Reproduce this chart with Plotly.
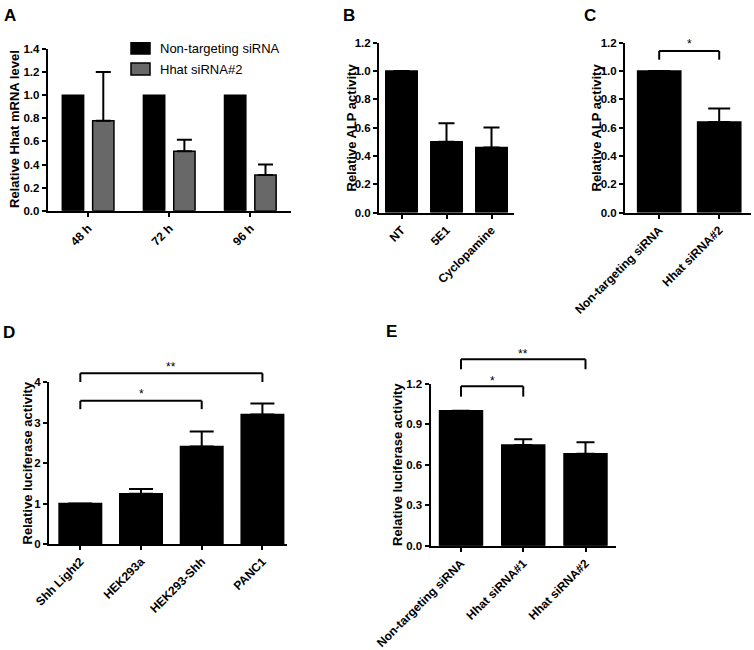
import plotly.graph_objects as go

W, H = 754, 650
FONT = "Arial, 'Liberation Sans', Helvetica, sans-serif"

# ---------------- data ----------------
a_categories = ["48 h", "72 h", "96 h"]
a_nontargeting = [1.0, 1.0, 1.0]
a_hhat = [0.78, 0.515, 0.31]
a_hhat_err = [0.42, 0.10, 0.09]

b_categories = ["NT", "5E1", "Cyclopamine"]
b_values = [1.0, 0.50, 0.46]
b_err = [None, 0.13, 0.14]

c_categories = ["Non-targeting siRNA", "Hhat siRNA#2"]
c_values = [1.0, 0.64]
c_err = [None, 0.095]

d_categories = ["Shh Light2", "HEK293a", "HEK293-Shh", "PANC1"]
d_values = [1.0, 1.24, 2.41, 3.20]
d_err = [None, 0.12, 0.37, 0.27]

e_categories = ["Non-targeting siRNA", "Hhat siRNA#1", "Hhat siRNA#2"]
e_values = [1.0, 0.746, 0.681]
e_err = [None, 0.042, 0.085]

# significance brackets: (panel, i, j, y_line, y_leg, y_text, label)
brackets = [
    ("C", 0, 1, 1.141, 1.08, 1.19, "*"),
    ("D", 0, 2, 3.535, 3.33, 3.70, "*"),
    ("D", 0, 3, 4.216, 4.00, 4.38, "**"),
    ("E", 0, 1, 1.181, 1.104, 1.222, "*"),
    ("E", 0, 2, 1.381, 1.307, 1.422, "**"),
]

# ---------------- layout geometry (window pixels) ----------------
panels = {
    #      x0     x1     ytop   ybot   xrange          yrange    dtick  fmt
    "A": (47.7, 291.0, 49.0, 210.8, [-0.5, 2.5], [0, 1.4], 0.2, ".1f", ""),
    "B": (379.0, 514.0, 42.7, 212.5, [-0.5, 2.5], [0, 1.2], 0.2, ".1f", "2"),
    "C": (625.0, 751.0, 42.7, 212.5, [-0.57, 1.53], [0, 1.2], 0.2, ".1f", "3"),
    "D": (49.0, 287.3, 382.0, 544.0, [-0.516, 3.41], [0, 4], 1, "d", "4"),
    "E": (430.5, 616.0, 383.7, 545.7, [-0.49, 2.49], [0, 1.2], 0.3, ".1f", "5"),
}

def px(x):
    return x / W

def py(y):
    return 1 - y / H

fig = go.Figure()
xfont = dict(family=FONT, size=12, color="black", weight="bold")
yfont = dict(family=FONT, size=11.5, color="black", weight="bold")

BLACK = "#000000"
GREY = "#686868"

# Panel A
fig.add_trace(go.Bar(x=a_categories, y=a_nontargeting, name="Non-targeting siRNA",
                     marker=dict(color=BLACK, line=dict(color=BLACK, width=1.5)),
                     width=0.263, offset=-0.32, xaxis="x", yaxis="y", showlegend=False))
fig.add_trace(go.Bar(x=a_categories, y=a_hhat, name="Hhat siRNA#2",
                     marker=dict(color=GREY, line=dict(color=BLACK, width=1.5)),
                     width=0.263, offset=0.054, xaxis="x", yaxis="y", showlegend=False,
                     error_y=dict(type="data", array=a_hhat_err, arrayminus=[0, 0, 0], symmetric=False,
                                  color=BLACK, thickness=2, width=7.5)))

def single(cats, vals, errs, ax, width, capw):
    fig.add_trace(go.Bar(x=cats, y=vals, marker=dict(color=BLACK, line=dict(color=BLACK, width=1.5)),
                         width=width, xaxis="x" + ax, yaxis="y" + ax, showlegend=False,
                         error_y=dict(type="data", array=errs, arrayminus=[0] * len(vals), symmetric=False,
                                      color=BLACK, thickness=2, width=capw)))

single(b_categories, b_values, b_err, "2", 0.70, 8)
single(c_categories, c_values, c_err, "3", 0.72, 11)
single(d_categories, d_values, d_err, "4", 0.70, 12)
single(e_categories, e_values, e_err, "5", 0.69, 9)

layout = dict(width=W, height=H, margin=dict(l=0, r=0, t=0, b=0, pad=0, autoexpand=False),
              autosize=False,
              paper_bgcolor="white", plot_bgcolor="white", showlegend=False,
              font=dict(family=FONT, color="black"))

for key, (x0, x1, yt, yb, xr, yr, dt, fmt, sfx) in panels.items():
    layout["xaxis" + sfx] = dict(domain=[px(x0), px(x1)], anchor="y" + sfx, type="category",
                                 range=xr, showline=True, linecolor="black", linewidth=2,
                                 ticks="outside", ticklen=4, tickwidth=2, tickcolor="black",
                                 showgrid=False, zeroline=False, tickangle=-45, tickfont=xfont,
                                 fixedrange=True, automargin=False)
    layout["yaxis" + sfx] = dict(domain=[py(yb), py(yt)], anchor="x" + sfx, range=yr,
                                 dtick=dt, tick0=0, tickformat=fmt, showline=True, linecolor="black",
                                 linewidth=2, ticks="outside", ticklen=4, tickwidth=2,
                                 tickcolor="black", showgrid=False, zeroline=False, tickfont=yfont,
                                 fixedrange=True, automargin=False)

fig.update_layout(**layout)

# Panel letters and axis titles
letters = [("A", 10, 16), ("B", 349, 16), ("C", 590, 16), ("D", 9, 332), ("E", 391, 331)]
for t, x, y in letters:
    fig.add_annotation(text=t, x=px(x), y=py(y), xref="paper", yref="paper", showarrow=False,
                       font=dict(family=FONT, size=17, color="black", weight="bold"),
                       xanchor="center", yanchor="middle")

ytitles = [("Relative Hhat mRNA level", 14, 129), ("Relative ALP activity", 350.5, 128),
           ("Relative ALP activity", 595.5, 128), ("Relative luciferase activity", 27, 463.5),
           ("Relative luciferase activity", 397, 465)]
for t, x, y in ytitles:
    fig.add_annotation(text=t, x=px(x), y=py(y), xref="paper", yref="paper", showarrow=False,
                       textangle=-90, font=dict(family=FONT, size=13, color="black", weight="bold"),
                       xanchor="center", yanchor="middle")

# Legend for panel A (manual)
legend_items = [("Non-targeting siRNA", BLACK, 42.7, 54.0), ("Hhat siRNA#2", GREY, 63.0, 75.0)]
for label, col, y0, y1 in legend_items:
    fig.add_shape(type="rect", xref="paper", yref="paper", x0=px(131), x1=px(150),
                  y0=py(y1), y1=py(y0), fillcolor=col, line=dict(color="black", width=1.5))
    fig.add_annotation(text=label, x=px(158), y=py((y0 + y1) / 2), xref="paper", yref="paper",
                       showarrow=False, xanchor="left", yanchor="middle",
                       font=dict(family=FONT, size=13, color="black"))

# Brackets
for pnl, i, j, yl, yleg, ytxt, lab in brackets:
    x0p, x1p, yt, yb, xr, yr, dt, fmt, sfx = panels[pnl]
    xref = "x" + sfx + " domain"
    yref = "y" + sfx + " domain"
    fx = lambda v: (v - xr[0]) / (xr[1] - xr[0])
    fy = lambda v: (v - yr[0]) / (yr[1] - yr[0])
    line = dict(color="black", width=2)
    fig.add_shape(type="line", xref=xref, yref=yref, x0=fx(i), x1=fx(j), y0=fy(yl), y1=fy(yl), line=line)
    fig.add_shape(type="line", xref=xref, yref=yref, x0=fx(i), x1=fx(i), y0=fy(yleg), y1=fy(yl), line=line)
    fig.add_shape(type="line", xref=xref, yref=yref, x0=fx(j), x1=fx(j), y0=fy(yleg), y1=fy(yl), line=line)
    fig.add_annotation(text=lab, xref=xref, yref=yref, x=fx((i + j) / 2), y=fy(ytxt), showarrow=False,
                       xanchor="center", yanchor="middle", font=dict(family=FONT, size=12, color="black"))

# remove the page's default 8px body margin so the figure sits at the window's top-left corner
fig.write_html("out.html", config={"displayModeBar": False},
               post_script="document.body.style.margin='0px';document.body.style.padding='0px';")
